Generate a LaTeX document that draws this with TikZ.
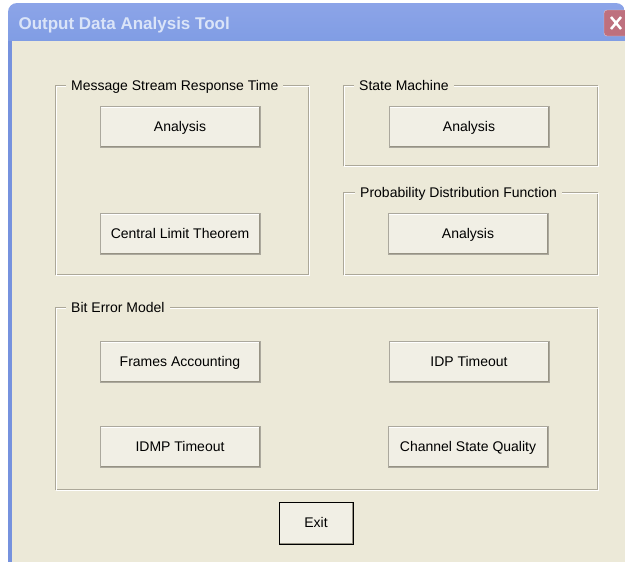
\documentclass[tikz,border=0pt]{standalone}
\usepackage{fontspec}
\setmainfont{Liberation Sans}
\usetikzlibrary{positioning}

\definecolor{dlgface}{RGB}{236,233,216}
\definecolor{btnface}{RGB}{241,239,229}
\definecolor{etchgray}{RGB}{172,168,153}
\definecolor{btnshade}{RGB}{150,146,132}
\definecolor{titlelight}{RGB}{140,164,232}
\definecolor{titleblue}{RGB}{118,146,222}
\definecolor{titlelow}{RGB}{128,157,228}
\definecolor{titletext}{RGB}{218,228,248}
\definecolor{closered}{RGB}{190,112,126}

\begin{document}
\begin{tikzpicture}[x=1pt, y=-1pt,
        etched/.style={draw=etchgray, line width=1pt},
        grouptitle/.style={fill=dlgface, inner xsep=5pt, inner ysep=1pt, anchor=west,
            text height=10pt, text depth=0pt, font=\fontsize{14}{16}\selectfont},
        btn/.style={fill=btnface, draw=btnshade!80, line width=1pt, minimum width=160pt,
            minimum height=41pt, inner sep=0pt, text height=9pt, text depth=1pt,
            font=\fontsize{14}{16}\selectfont,
            path picture={
                \draw[white, line width=2pt] (path picture bounding box.south west)
                    |- (path picture bounding box.north east);
                \draw[btnshade, line width=3pt] (path picture bounding box.south west)
                    -| (path picture bounding box.north east);
            }}]
        \useasboundingbox (0,0) rectangle (625,562);
        % Define the window
        \fill[white] (0,0) rectangle (625,562);
        \shade[top color=titlelight, middle color=titleblue, bottom color=titlelow]
            (8,41) {[rounded corners=9pt] -- (8,3) -- (625,3)} -- (625,41) -- cycle;
        \fill[titleblue] (8,41) rectangle (12,562);
        \fill[dlgface] (12,41) rectangle (625,562);
        \node[anchor=base west, text=titletext, font=\bfseries\fontsize{17}{20}\selectfont]
            (title) at (15,30) {Output Data Analysis Tool};
        \node[fill=closered, draw=white!60!closered, rounded corners=3pt, minimum width=24pt,
            minimum height=26pt] (closebtn) at (616,23) {};
        \draw[white, line width=2.5pt] ([shift={(-5,-6)}]closebtn.center) -- ([shift={(5,6)}]closebtn.center)
            ([shift={(-5,6)}]closebtn.center) -- ([shift={(5,-6)}]closebtn.center);
        % Define the group frames
        \foreach \xa/\ya/\xb/\yb in {55/85/308/274, 343/85/597/165, 343/192/597/274, 55/307/597/489} {
            \draw[etched] (\xa,\ya) rectangle (\xb,\yb);
            \draw[white] (\xa+1,\ya+1) rectangle (\xb+1,\yb+1);
        }
        \node[grouptitle] (msrtlabel) at (66,85) {Message Stream Response Time};
        \node[grouptitle] (smlabel) at (354,85) {State Machine};
        \node[grouptitle] (pdflabel) at (355,192) {Probability Distribution Function};
        \node[grouptitle] (belabel) at (66,307) {Bit Error Model};
        % Define the buttons
        \node[btn] (msrtanalysis) at (180,127) {Analysis};
        \node[btn] (cltbtn) at (180,234) {Central Limit Theorem};
        \node[btn] (smanalysis) at (469,127) {Analysis};
        \node[btn] (pdfanalysis) at (468,234) {Analysis};
        \node[btn] (framesbtn) at (180,362) {Frames Accounting};
        \node[btn] (idpbtn) at (469,362) {IDP Timeout};
        \node[btn] (idmpbtn) at (180,447) {IDMP Timeout};
        \node[btn] (csqbtn) at (468,447) {Channel State Quality};
        \node[btn, minimum width=74pt, minimum height=42pt, draw=black] (exitbtn) at (316,523) {Exit};
\end{tikzpicture}
\end{document}
